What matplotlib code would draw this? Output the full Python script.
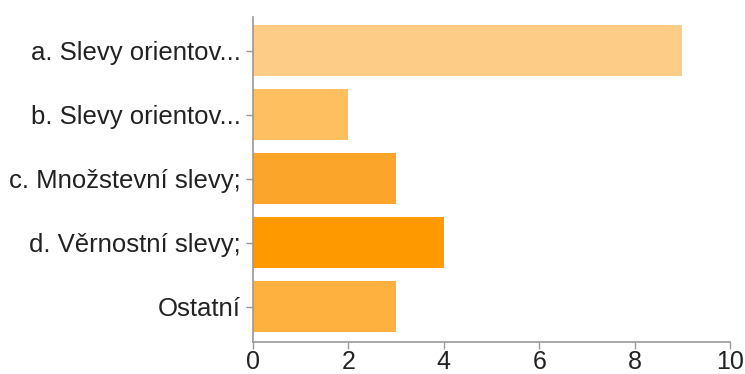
import matplotlib
matplotlib.use("Agg")
import matplotlib.pyplot as plt

categories = ["a. Slevy orientov...", "b. Slevy orientov...", "c. Množstevní slevy;",
              "d. Věrnostní slevy;", "Ostatní"]
counts = [9, 2, 3, 4, 3]
colors = ["#FDCC86", "#FEBF60", "#FCA52B", "#FF9900", "#FFB140"]
xticks = [0, 2, 4, 6, 8, 10]

plt.rcParams['font.family'] = ['Liberation Sans', 'DejaVu Sans']

fig = plt.figure(figsize=(7.45, 3.74), dpi=100)
ax = fig.add_axes([0.3396, 0.0856, 0.6404, 0.869])

pos = list(range(len(categories)))
ax.barh(pos, counts, height=0.8, color=colors)
ax.set_yticks(pos)
ax.set_yticklabels(categories, fontsize=18.5)
ax.set_ylim(4.55, -0.53)
ax.set_xlim(0, 10)
ax.set_xticks(xticks)
ax.set_xticklabels([str(t) for t in xticks], fontsize=18)

for side in ["top", "right"]:
    ax.spines[side].set_visible(False)
for side in ["left", "bottom"]:
    ax.spines[side].set_color("#999999")
    ax.spines[side].set_linewidth(1.2)
ax.tick_params(axis="both", colors="#999999", labelcolor="#222222", length=5, width=1)
ax.tick_params(axis="x", pad=1)

fig.savefig("out.png", dpi=100)
